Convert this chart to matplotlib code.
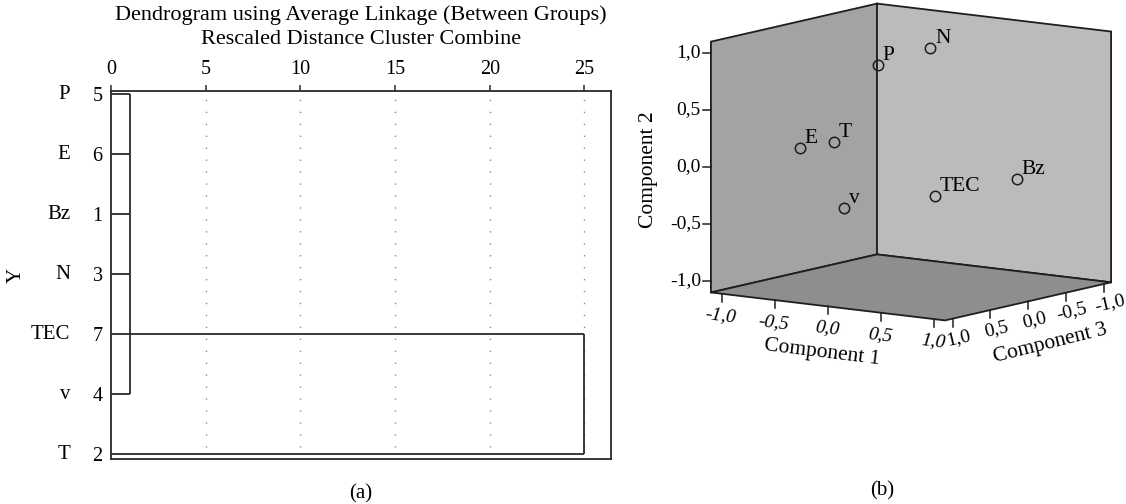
import matplotlib
matplotlib.use("Agg")
import matplotlib.pyplot as plt
from matplotlib.transforms import blended_transform_factory
from matplotlib.patches import Polygon

plt.rcParams['font.family'] = ['Liberation Serif', 'DejaVu Serif']

# ---------------- Dendrogram data ----------------
leaf_names = ["P", "E", "Bz", "N", "TEC", "v", "T"]
case_ids = [5, 6, 1, 3, 7, 4, 2]
cluster_a = ["P", "E", "Bz", "N", "v"]
cluster_a_dist = 1.0
final_pair = ["TEC", "T"]
final_dist = 25.0
dist_ticks = [0, 5, 10, 15, 20, 25]

# ---------------- Component plot data ----------------
var_names = ["P", "N", "E", "T", "v", "TEC", "Bz"]
comp1 = [-0.24, -0.03, -0.69, -0.30, -0.13, 0.15, 0.64]
comp2 = [0.84, 0.95, 0.12, 0.23, -0.31, -0.30, -0.15]
comp3 = [0.10, -0.30, 0.50, 0.60, 0.70, -0.10, -0.50]
comp_ticks = [-1.0, -0.5, 0.0, 0.5, 1.0]
comp_lim = 1.1

W, H = 1126, 504
fig = plt.figure(figsize=(W / 100, H / 100), dpi=100)
LC = '#2a2a2a'

# ================= (a) Dendrogram =================
x0, x1, ytop, ybot = 111, 611, 91.3, 458.7
ax = fig.add_axes([x0 / W, 1 - ybot / H, (x1 - x0) / W, (ybot - ytop) / H])
ax.set_xlim(0, 26.4)
ax.set_ylim(6.073, -0.05)
rows = {n: i for i, n in enumerate(leaf_names)}

for t in dist_ticks[1:]:
    ax.axvline(t, ls=(0, (1, 7.6)), color='#8a8a8a', lw=1.0, zorder=0)

kw = dict(color=LC, lw=1.3, clip_on=False, solid_capstyle='butt')
for n in cluster_a:
    ax.plot([0, cluster_a_dist], [rows[n], rows[n]], **kw)
ra = [rows[n] for n in cluster_a]
ax.plot([cluster_a_dist, cluster_a_dist], [min(ra), max(ra)], **kw)
for n in final_pair:
    ax.plot([0, final_dist], [rows[n], rows[n]], **kw)
rf = [rows[n] for n in final_pair]
ax.plot([final_dist, final_dist], [min(rf), max(rf)], **kw)

for s in ax.spines.values():
    s.set_color(LC)
    s.set_linewidth(1.3)
ax.xaxis.tick_top()
ax.set_xticks(dist_ticks)
ax.set_xticklabels([str(t) for t in dist_ticks])
ax.tick_params(axis='x', direction='out', length=4.5, width=1.1, color=LC,
               pad=4, labelsize=14.5)
ax.set_yticks(range(len(leaf_names)))
ax.set_yticklabels([str(c) for c in case_ids])
ax.tick_params(axis='y', length=0, pad=6, labelsize=14.5)
tr = blended_transform_factory(ax.transAxes, ax.transData)
for n, i in rows.items():
    ax.text(-41 / (x1 - x0), i, n, transform=tr, ha='right', va='center',
            fontsize=15)
fig.text(16 / W, 1 - 275 / H, 'Y', rotation=90, ha='center', va='center',
         fontsize=15)
fig.text(361 / W, 1 - 15 / H, 'Dendrogram using Average Linkage (Between Groups)',
         ha='center', va='center', fontsize=16)
fig.text(361 / W, 1 - 40 / H, 'Rescaled Distance Cluster Combine',
         ha='center', va='center', fontsize=16)
fig.text(361 / W, 1 - 494 / H, '(a)', ha='center', va='center', fontsize=15)

# ================= (b) Component plot =================
bx = fig.add_axes([620 / W, 0, (W - 620) / W, 1])
bx.set_xlim(620, W)
bx.set_ylim(H, 0)
bx.axis('off')

OX, OY = 911.0, 162.0
A = (106.4, 12.7)    # screen vector per unit of Component 1
B = (-75.5, 17.3)    # screen vector per unit of Component 3
C = (0.0, -114.0)    # screen vector per unit of Component 2


def proj(c1, c2, c3):
    return (OX + A[0] * c1 + B[0] * c3 + C[0] * c2,
            OY + A[1] * c1 + B[1] * c3 + C[1] * c2)


L = comp_lim
left_wall = [proj(-L, -L, L), proj(-L, -L, -L), proj(-L, L, -L), proj(-L, L, L)]
right_wall = [proj(-L, -L, -L), proj(L, -L, -L), proj(L, L, -L), proj(-L, L, -L)]
floor = [proj(-L, -L, L), proj(L, -L, L), proj(L, -L, -L), proj(-L, -L, -L)]
for poly, col in [(left_wall, '#a3a3a3'), (right_wall, '#babbba'), (floor, '#8e8e8e')]:
    bx.add_patch(Polygon(poly, closed=True, facecolor=col, edgecolor='#1e1e1e',
                         lw=1.3, joinstyle='miter'))

fmt = lambda v: f"{v:.1f}".replace('.', ',')
tk = dict(color='#1e1e1e', lw=1.1)
# Component 2 (vertical, left edge)
for t in comp_ticks:
    x, y = proj(-L, t, L)
    bx.plot([x - 8, x], [y, y], **tk)
    bx.text(x - 10, y, fmt(t), ha='right', va='center', fontsize=14)
bx.text(648, 170, 'Component 2', rotation=90, ha='center', va='center', fontsize=15.5)

# Component 1 (front-left floor edge)
for t in comp_ticks:
    x, y = proj(t, -L, L)
    bx.plot([x, x], [y, y + 8], **tk)
    bx.text(x - 1, y + 22, fmt(t), ha='center', va='center', fontsize=14,
            rotation=-7, style='italic')
x, y = proj(0, -L, L)
bx.text(x - 6, y + 46, 'Component 1', ha='center', va='center', fontsize=15.5,
        rotation=-7)

# Component 3 (front-right floor edge)
for t in comp_ticks:
    x, y = proj(L, -L, t)
    bx.plot([x, x], [y, y + 8], **tk)
    bx.text(x + 6, y + 19, fmt(t), ha='center', va='center', fontsize=14,
            rotation=13)
x, y = proj(L, -L, 0)
bx.text(x + 22, y + 42, 'Component 3', ha='center', va='center', fontsize=15.5,
        rotation=14)

# points
px, py = zip(*[proj(a, b, c) for a, b, c in zip(comp1, comp2, comp3)])
bx.plot(px, py, 'o', ms=7.5, mfc='none', mec='#1e1e1e', mew=1.1, ls='none')
for n, x, y in zip(var_names, px, py):
    bx.text(x + 5, y - 5, n, ha='left', va='baseline', fontsize=15.5)

fig.text(882 / W, 1 - 491 / H, '(b)', ha='center', va='center', fontsize=15)

fig.savefig('out.png', dpi=100)
